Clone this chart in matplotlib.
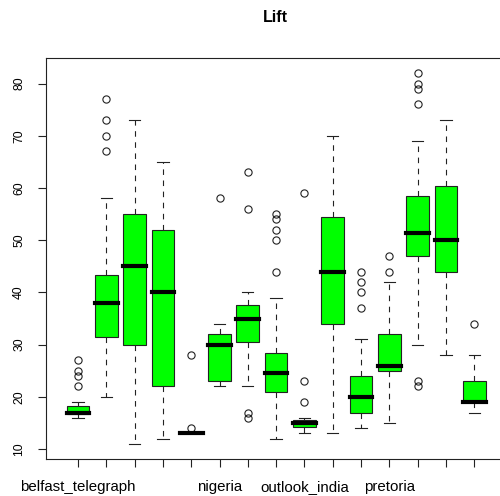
import matplotlib
matplotlib.use('Agg')
import matplotlib.pyplot as plt

plt.rcParams['font.family'] = ['Liberation Sans', 'DejaVu Sans']

labels = ['belfast_telegraph', '', '', '', '', 'nigeria', '', '', 'outlook_india', '', '',
          'pretoria', '', '', '']
whis_lo = [16, 20, 11, 12, 13, 22, 22, 12, 13, 13, 14, 15, 30, 28, 17]
q1 = [16.7, 31.4, 30, 22, 13, 23, 30.5, 21, 14.2, 34, 17, 25, 47, 44, 19]
med = [17, 38, 45, 40, 13, 30, 35, 24.5, 15, 44, 20, 26, 51.4, 50, 19]
q3 = [18.2, 43.3, 55, 52, 13, 32, 37.5, 28.4, 15.5, 54.5, 24, 32, 58.5, 60.3, 23]
whis_hi = [19, 58, 73, 65, 13, 34, 40, 39, 16, 70, 31, 42, 69, 73, 28]
outliers = [
    [22, 24, 25, 27],
    [67, 70, 73, 77],
    [],
    [],
    [14, 28],
    [58],
    [16, 17, 56, 63],
    [44, 50, 52, 54, 55],
    [19, 23, 59],
    [],
    [37, 40, 42, 44],
    [44, 47],
    [22, 23, 76, 79, 80, 82],
    [],
    [34],
]

stats = []
for i in range(len(labels)):
  stats.append({'whislo': whis_lo[i], 'q1': q1[i], 'med': med[i], 'q3': q3[i],
                'whishi': whis_hi[i], 'fliers': outliers[i]})

fig = plt.figure(figsize=(5, 4.96), dpi=100)
# right edge of the plot box sits just past the image border
ax = fig.add_axes([46 / 500, 1 - 458.7 / 496, 460 / 500, (458.7 - 58.3) / 496])

pos = list(range(1, len(labels) + 1))
ax.bxp(stats, positions=pos, widths=0.8, patch_artist=True,
       boxprops=dict(facecolor='#00ff00', edgecolor='#222222', linewidth=0.8),
       medianprops=dict(color='black', linewidth=3, solid_capstyle='projecting'),
       whiskerprops=dict(color='#222222', linewidth=0.8, linestyle=(0, (5, 5))),
       capprops=dict(color='#222222', linewidth=0.8),
       flierprops=dict(marker='o', markerfacecolor='none', markeredgecolor='#222222',
                       markersize=5.2, markeredgewidth=0.8))

px = 28.3
ax.set_xlim(1 - 32 / px, 1 + 428 / px)
ax.set_ylim(8.16, 84.84)
ax.set_yticks(range(10, 81, 10))
ax.set_xticks(pos)
ax.set_xticklabels(labels, fontsize=10.8)
for s in ax.spines.values():
  s.set_linewidth(0.8)
  s.set_color('#222222')
ax.tick_params(axis='x', length=6, width=0.8, pad=9.6, color='#222222')
ax.tick_params(axis='y', length=6, width=0.8, pad=9, labelsize=8.7, labelrotation=90,
               color='#222222')
for t in ax.get_yticklabels():
  t.set_va('center')

fig.text(275 / 500, 1 - 18 / 496, 'Lift', ha='center', va='center', fontsize=11.5,
         fontweight='bold')

fig.savefig('out.png', dpi=100)
